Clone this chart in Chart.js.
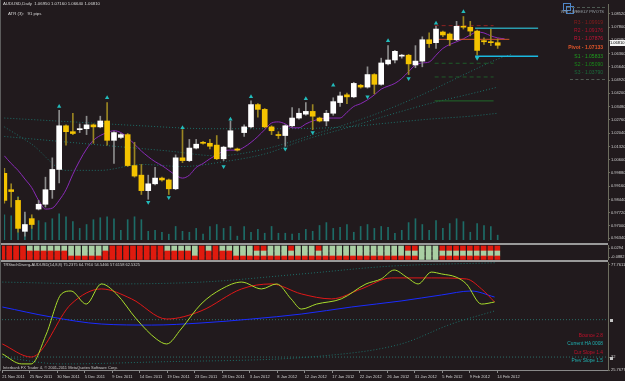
<!DOCTYPE html>
<html>
<head>
<meta charset="utf-8">
<script src="https://cdn.jsdelivr.net/npm/chart.js@4.4.1/dist/chart.umd.min.js"></script>
<style>
  html, body { margin: 0; padding: 0; background: #211a1d; }
  #wrap { position: relative; width: 625px; height: 381px; overflow: hidden; background: #211a1d;
          font-family: "Liberation Sans", Arial, sans-serif; }
  canvas { position: absolute; left: 0; }
  .t { position: absolute; white-space: nowrap; line-height: 1; }
  .sep { position: absolute; left: 0; width: 608px; height: 2px; background: #9a9a9a; }
</style>
</head>
<body>
<div id="wrap">
  <canvas id="main" width="625" height="244" style="top:0"></canvas>
  <canvas id="ha" width="625" height="15" style="top:245px"></canvas>
  <canvas id="st" width="625" height="119" style="top:262px"></canvas>
  <div class="sep" style="top:243px"></div>
  <div class="sep" style="top:260px"></div>
  <div style="position:absolute;left:0;top:0;width:1px;height:371px;background:#5c5c5c"></div>

  <div class="t" style="left:3px;top:2px;font-size:4.3px;color:#d8d8d8">AUDUSD,Daily&nbsp; 1.06950 1.07160 1.06640 1.06810</div>
  <div class="t" style="left:8px;top:12px;font-size:4.3px;color:#d8d8d8">ATR (3):&nbsp;&nbsp; 91 pips</div>

  <!-- weekly pivot box -->
  <div style="position:absolute;left:563px;top:3px;width:6px;height:6px;border:1px solid #4f86c6"></div>
  <div style="position:absolute;left:566px;top:6px;width:6px;height:6px;border:1px solid #4f86c6"></div>
  <div style="position:absolute;left:567px;top:7px;width:38px;border-top:1px dashed #4e5a52"></div>
  <div class="t" style="right:21px;top:10px;font-size:4px;color:#9aa3aa">WPI - WEEKLY PIVOTS</div>
  <div class="t" style="right:22px;top:20px;font-size:5px;color:#8b1c1c">R3 - 1.09919</div>
  <div class="t" style="right:22px;top:28px;font-size:5px;color:#b3102c">R2 - 1.09176</div>
  <div class="t" style="right:22px;top:36px;font-size:5px;color:#c81436">R1 - 1.07876</div>
  <div class="t" style="right:22px;top:45px;font-size:5px;color:#e2562a;font-weight:bold">Pivot - 1.07133</div>
  <div class="t" style="right:22px;top:54px;font-size:5px;color:#1ea01e">S1 - 1.05833</div>
  <div class="t" style="right:22px;top:62px;font-size:5px;color:#188c18">S2 - 1.05090</div>
  <div class="t" style="right:22px;top:70px;font-size:5px;color:#1b6d3c">S3 - 1.03790</div>
  <div style="position:absolute;left:570px;top:79px;width:35px;border-top:1px dashed #4e5a52"></div>

  <div class="t" style="left:610px;top:40px;width:15px;height:6px;background:#f4f4f4;color:#000;font-size:4px;line-height:6px">1.06810</div>

  <div class="t" style="left:3px;top:263px;font-size:4px;color:#d0d0d0">TRStochDiverg-AUDUSD(14,8,8) 75.2375 64.7910 54.5466 57.6158 62.5325</div>
  <div class="t" style="right:22px;top:334px;font-size:4.8px;color:#c0102a">Bounce 2.8</div>
  <div class="t" style="right:22px;top:342px;font-size:4.8px;color:#1fb0b0">Current HA 0008</div>
  <div class="t" style="right:22px;top:351px;font-size:4.8px;color:#c0102a">Cur Slope 1.4</div>
  <div class="t" style="right:22px;top:359px;font-size:4.8px;color:#1fb0b0">Prev Slope 1.5</div>
  <div style="position:absolute;left:610px;top:319px;width:3px;height:3px;background:#c4c4c4"></div>
  <div style="position:absolute;left:610px;top:357px;width:3px;height:3px;background:#c4c4c4"></div>
  <div class="t" style="left:3px;top:366px;font-size:4px;color:#c8c8c8">Interbank FX Trader 4, © 2001-2011 MetaQuotes Software Corp.</div>
</div>

<script>
// ---- data ----
const dateLabels = ['21 Nov 2011', '25 Nov 2011', '30 Nov 2011', '5 Dec 2011', '9 Dec 2011', '14 Dec 2011',
  '19 Dec 2011', '23 Dec 2011', '28 Dec 2011', '3 Jan 2012', '8 Jan 2012', '12 Jan 2012', '17 Jan 2012',
  '22 Jan 2012', '26 Jan 2012', '31 Jan 2012', '5 Feb 2012', '9 Feb 2012', '14 Feb 2012'];
const dateIdx = [0, 4, 8, 12, 16, 20, 24, 28, 32, 36, 40, 44, 48, 52, 56, 60, 64, 68, 72];

const open = [.9986, .9897, .9839, .9671, .9740, .9792, .9818, .9897, 1.0007, 1.0244,
  1.0212, 1.0223, 1.0228, 1.0249, 1.0238, 1.0270, 1.0165, 1.0181, 1.0196, 1.0028,
  .9976, .9892, .9929, .9960, .9950, .9902, 1.0070, 1.0055, 1.0123, 1.0154,
  1.0149, 1.0139, 1.0065, 1.0128, 1.0118, 1.0207, 1.0238, 1.0359, 1.0333, 1.0238,
  1.0196, 1.0191, 1.0244, 1.0286, 1.0307, 1.0322, 1.0286, 1.0270, 1.0312, 1.0370,
  1.0412, 1.0401, 1.0464, 1.0454, 1.0522, 1.0469, 1.0580, 1.0601, 1.0622, 1.0627,
  1.0574, 1.0595, 1.0711, 1.0695, 1.0753, 1.0742, 1.0711, 1.0784, 1.0779, 1.0758,
  1.0706, 1.0700, 1.0695];
const high = [1.0013, .9929, .9855, .9776, .9761, .9839, .9965, 1.0070, 1.0328, 1.0249,
  1.0312, 1.0254, 1.0296, 1.0254, 1.0296, 1.0370, 1.0212, 1.0202, 1.0202, 1.0154,
  1.0034, .9976, 1.0018, .9965, .9955, 1.0086, 1.0223, 1.0170, 1.0170, 1.0160,
  1.0170, 1.0191, 1.0133, 1.0270, 1.0123, 1.0249, 1.0380, 1.0364, 1.0338, 1.0244,
  1.0212, 1.0249, 1.0343, 1.0338, 1.0370, 1.0359, 1.0291, 1.0328, 1.0396, 1.0427,
  1.0422, 1.0480, 1.0469, 1.0564, 1.0527, 1.0611, 1.0679, 1.0653, 1.0632, 1.0632,
  1.0679, 1.0727, 1.0748, 1.0784, 1.0758, 1.0748, 1.0811, 1.0837, 1.0811, 1.0763,
  1.0721, 1.0774, 1.0716];
const low = [.9824, .9803, .9666, .9645, .9687, .9787, .9803, .9850, .9934, 1.0139,
  1.0196, 1.0207, 1.0196, 1.0149, 1.0233, 1.0139, 1.0039, 1.0175, 1.0023, .9965,
  .9871, .9845, .9923, .9944, .9871, .9897, 1.0044, 1.0049, 1.0118, 1.0144,
  1.0118, 1.0060, 1.0055, 1.0123, 1.0107, 1.0186, 1.0233, 1.0291, 1.0233, 1.0196,
  1.0175, 1.0133, 1.0238, 1.0280, 1.0301, 1.0223, 1.0265, 1.0244, 1.0301, 1.0349,
  1.0364, 1.0396, 1.0448, 1.0448, 1.0417, 1.0464, 1.0574, 1.0585, 1.0611, 1.0522,
  1.0559, 1.0564, 1.0669, 1.0664, 1.0727, 1.0679, 1.0706, 1.0769, 1.0732, 1.0627,
  1.0685, 1.0679, 1.0664];
const close = [.9839, .9887, .9687, .9708, .9708, .9818, .9897, 1.0007, 1.0244, 1.0212,
  1.0202, 1.0228, 1.0249, 1.0238, 1.0270, 1.0165, 1.0207, 1.0196, 1.0028, .9971,
  .9892, .9929, .9960, .9950, .9902, 1.0070, 1.0055, 1.0123, 1.0144, 1.0149,
  1.0133, 1.0065, 1.0128, 1.0217, 1.0112, 1.0238, 1.0359, 1.0333, 1.0238, 1.0217,
  1.0191, 1.0244, 1.0286, 1.0312, 1.0322, 1.0296, 1.0270, 1.0312, 1.0375, 1.0406,
  1.0401, 1.0474, 1.0454, 1.0522, 1.0469, 1.0585, 1.0601, 1.0648, 1.0627, 1.0580,
  1.0595, 1.0711, 1.0690, 1.0769, 1.0737, 1.0711, 1.0784, 1.0779, 1.0758, 1.0653,
  1.0700, 1.0695, 1.0681];

// shifted moving average (purple), one value per bar + 1 ahead
const maPurple = [1.0081, 1.0039, 1.0002, .9955, .9908, .9839, .9792, .9797, .9839, .9897,
  .9981, 1.0055, 1.0118, 1.0165, 1.0191, 1.0207, 1.0217, 1.0207, 1.0181, 1.0144,
  1.0107, 1.0076, 1.0049, 1.0028, 1.0002, .9976, .9960, .9976, 1.0018, 1.0039,
  1.0065, 1.0086, 1.0107, 1.0112, 1.0112, 1.0128, 1.0154, 1.0186, 1.0223, 1.0259,
  1.0265, 1.0254, 1.0233, 1.0233, 1.0254, 1.0270, 1.0280, 1.0286, 1.0286, 1.0286,
  1.0317, 1.0349, 1.0364, 1.0385, 1.0412, 1.0443, 1.0459, 1.0474, 1.0501, 1.0538,
  1.0574, 1.0585, 1.0590, 1.0627, 1.0664, 1.0685, 1.0700, 1.0716, 1.0737, 1.0753,
  1.0748, 1.0732, 1.0721, 1.0716];

// dotted moving averages: [bar, price]
const maSlow = [[0, 1.0286], [10, 1.0265], [20, 1.0244], [30, 1.0228], [40, 1.0228], [50, 1.0238],
  [56, 1.0259], [62, 1.0280], [68, 1.0296], [72, 1.0312]];
const maMid = [[0, 1.0238], [4, 1.0144], [9, 1.0002], [14, 1.0002], [20, 1.0034], [26, 1.0023],
  [32, 1.0049], [38, 1.0091], [44, 1.0170], [50, 1.0233], [56, 1.0301], [62, 1.0364], [68, 1.0417], [72, 1.0454]];
const maFast = [[0, 1.0186], [16, 1.0133], [24, 1.0107], [31, 1.0081], [38, 1.0118], [46, 1.0207],
  [53, 1.0291], [59, 1.0380], [63, 1.0448], [68, 1.0538], [72, 1.0606], [74, 1.0632]];

// fractal arrows
const fractalUp = [[8, 1.0349], [15, 1.0396], [26, 1.0233], [33, 1.0280], [36, 1.0401], [44, 1.0391],
  [48, 1.0464], [56, 1.0706], [63, 1.0800], [67, 1.0863]];
const fractalDown = [[21, .9829], [24, .9855], [32, 1.0023], [41, 1.0118], [45, 1.0207], [53, 1.0401],
  [59, 1.0501], [69, 1.0611]];

// bottom teal histogram in price window
const volH = [26, 25, 45, 26, 24, 20, 18, 22, 27, 24, 19, 12, 16, 21, 23, 24, 22, 10, 21, 24,
  21, 9, 10, 8, 6, 14, 9, 8, 12, 6, 14, 16, 12, 14, 4, 14, 8, 11, 7, 14,
  7, 7, 6, 7, 11, 9, 15, 18, 12, 13, 16, 8, 14, 16, 12, 14, 13, 7, 10, 18,
  22, 16, 10, 20, 12, 17, 22, 19, 8, 17, 15, 14, 5];

// weekly pivots drawn on chart
const pivR1 = 1.07876, pivP = 1.07133, pivS1 = 1.05833, pivS2 = 1.05090, pivS3 = 1.03790;
const pivFrom = 62.8, pivTo = 71.4, pivPTo = 73.7;
const rangeHigh = 1.0774, rangeLow = 1.0622, rangeFrom = 68.7, rangeTo = 77.9;

const priceTicks = [1.0852, 1.0780, 1.0708, 1.0636, 1.0564, 1.0492, 1.0420, 1.0348, 1.0276,
  1.0204, 1.0132, 1.0060, 0.9988, 0.9916, 0.9844, 0.9772, 0.9700, 0.9634];

// heiken ashi strip: G = green, R = red
const haTop = 'RRRRGGGGGGGGGGGGRRRRRRRRGGGGGRGRGGGGGRRGGGRGGGRGGGGGGGGGGGGRRGGGRRRRRRRRR'.split('');
const haMid = 'RRRRRRRRRRGGGGGRRRRRRRRRRRRRGRRRRRGGGGGGGGGGGGGGGGGGGGGGGGGGGGGGGGGGGGGGG'.split('');
const haBot = 'RRRRRRRRRRRRRRRRRRRRRRRRRRRRRRRRRRRRRRRRRRRRRRRRRRRRRRRRRRRRRGGGRRRRRRRRR'.split('');
const haTickPos = [2.4, 0.6];
const haTickLabels = ['0.0294', '-0.0882'];

// stochastic window: [bar, value]
const stochMain = [[0, 33.5], [2.8, 28.7], [4.2, 28.7], [6.4, 43.1], [8.6, 62.4], [10, 63.8], [12.2, 57.5],
  [14.4, 67.2], [16.6, 62.4], [19.5, 50.3], [22.4, 40.7], [23.9, 38.3], [26, 45.5], [28.9, 57.5],
  [31.9, 64.8], [34.8, 68.1], [37.7, 64.8], [39.9, 67.2], [42, 60.0], [43.5, 55.1], [45.7, 57.5],
  [49.3, 60.0], [52.9, 67.2], [55.1, 69.6], [57, 73.9], [58.8, 70.5], [60.5, 67.2], [62.4, 72.9],
  [63.9, 72.0], [66, 70.5], [67.5, 67.2], [69.7, 57.5], [71.6, 58.5]];
const stochSignal = [[0, 38.3], [4.2, 32.0], [10, 57.5], [14.4, 64.8], [18.8, 60.0], [23.9, 50.3],
  [28.9, 54.2], [34.8, 64.8], [39.1, 67.2], [43.5, 62.4], [47.9, 60.0], [52.2, 64.8], [56.6, 70.1],
  [62.4, 70.1], [67.5, 69.6], [69.7, 64.8], [71.6, 58.5]];
const stochSlow = [[0, 56.1], [7.1, 51.3], [14.4, 47.9], [21.7, 47.4], [28.9, 48.4], [36.2, 50.3],
  [43.5, 52.7], [50.8, 56.1], [58, 59.0], [63.9, 61.9], [68.2, 63.8], [71.6, 60.9]];
const bandUpper = [[0, 68.1], [14.4, 67.2], [29, 68.1], [43.5, 72.0], [56.6, 75.8], [71.6, 77.4]];
const bandLower = [[0, 32.0], [8.6, 28.7], [21.7, 29.6], [46.4, 32.5], [58, 38.3], [65.3, 47.9], [71.6, 54.2]];
const stochLevels = [50, 32];
const stochMin = 25.7677, stochMax = 77.7611;
const stochTickPos = [76.6, 32, 25.7677];
const stochTickLabels = ['77.7611', '32', '25.7677'];

// ---- setup ----
const X_MIN = -0.05, X_MAX = 88.1;
const AXIS = '#6d6d5f';
const TXT = '#d0d0d0';
const FONT = { size: 4, family: '"Liberation Sans", Arial, sans-serif' };
Chart.defaults.font.family = FONT.family;

const idx = open.map((_, i) => i);
const pts = arr => arr.map(([x, y]) => ({ x, y }));
const isBull = i => close[i] >= open[i];

function rightAxis(extra) {
  return Object.assign({
    position: 'right',
    afterFit: s => { s.width = 17; s.paddingTop = 0; s.paddingBottom = 0; },
    ticks: { color: TXT, font: FONT, padding: 1, autoSkip: false },
    grid: { drawOnChartArea: false, tickLength: 2, color: AXIS },
    border: { color: AXIS }
  }, extra);
}
const hiddenX = { type: 'linear', display: false, offset: false, min: X_MIN, max: X_MAX };
const baseOpts = {
  responsive: false, animation: false, devicePixelRatio: 1,
  layout: { padding: { left: 2, right: 0, top: 0, bottom: 0 } },
  plugins: { legend: { display: false }, tooltip: { enabled: false } }
};
function hline(x0, x1, y, color, dash, width, order) {
  return { type: 'line', data: [{ x: x0, y }, { x: x1, y }], borderColor: color, borderWidth: width || 1,
    borderDash: dash || [], pointRadius: 0, order: order || 5 };
}
function dotted(arr, color) {
  return { type: 'line', data: pts(arr), borderColor: color, borderWidth: 1, borderDash: [1, 2],
    pointRadius: 0, cubicInterpolationMode: 'monotone', order: 8 };
}

// ---- price window ----
new Chart(document.getElementById('main'), {
  type: 'bar',
  data: {
    datasets: [
      { yAxisID: 'yv', data: idx.map(i => ({ x: i, y: volH[i] })), backgroundColor: '#1d6c67',
        barThickness: 1, grouped: false, order: 10 },
      dotted(maSlow, '#1d6f69'),
      dotted(maMid, '#1d6f69'),
      dotted(maFast, '#1d6f69'),
      hline(pivFrom, pivTo, pivR1, '#8c2323', [4, 3]),
      hline(pivFrom, pivPTo, pivP, '#d2542a', []),
      hline(pivFrom, pivTo, pivS1, '#1f5a2a', [4, 3]),
      hline(pivFrom, pivTo, pivS2, '#1f5a2a', [4, 3]),
      hline(pivFrom, pivTo, pivS3, '#1f6a2a', []),
      hline(rangeFrom, rangeTo, rangeHigh, '#2a9cae', [], 1.5, 2),
      hline(rangeFrom, rangeTo, rangeLow, '#1ab8e0', [], 1.5, 2),
      { type: 'line', data: maPurple.map((v, i) => ({ x: i, y: v })), borderColor: '#8a2bb8', borderWidth: 1,
        pointRadius: 0, cubicInterpolationMode: 'monotone', order: 6 },
      { data: idx.map(i => ({ x: i, y: [low[i], high[i]] })),
        backgroundColor: idx.map(i => isBull(i) ? '#8d8d8d' : '#9a8522'),
        barThickness: 1, grouped: false, order: 4 },
      { data: idx.map(i => ({ x: i, y: [open[i], close[i]] })),
        backgroundColor: idx.map(i => isBull(i) ? '#ffffff' : '#f4c300'),
        barThickness: 5, grouped: false, minBarLength: 1, order: 3 },
      { type: 'scatter', data: pts(fractalUp), pointStyle: 'triangle', pointRadius: 2.5,
        backgroundColor: '#22bcbc', borderWidth: 0, order: 1 },
      { type: 'scatter', data: pts(fractalDown), pointStyle: 'triangle', rotation: 180, pointRadius: 2.5,
        backgroundColor: '#22bcbc', borderWidth: 0, order: 1 }
    ]
  },
  options: Object.assign({}, baseOpts, {
    scales: {
      x: hiddenX,
      y: rightAxis({
        min: 0.9624, max: 1.0905,
        afterBuildTicks: s => { s.ticks = priceTicks.map(v => ({ value: v })); },
        ticks: { color: TXT, font: FONT, padding: 1, autoSkip: false, callback: v => v.toFixed(5) }
      }),
      yv: { display: false, min: 0, max: 244 }
    }
  })
});

// ---- heiken ashi strip ----
const HA_G = '#a9cfa3', HA_R = '#e01b0f';
const haColor = c => c === 'G' ? HA_G : HA_R;
new Chart(document.getElementById('ha'), {
  type: 'bar',
  data: {
    datasets: [
      { data: idx.map(i => ({ x: i, y: [0.1, 0.8] })), backgroundColor: haBot.map(haColor), barThickness: 5, grouped: false },
      { data: idx.map(i => ({ x: i, y: [0.8, 1.8] })), backgroundColor: haMid.map(haColor), barThickness: 5, grouped: false },
      { data: idx.map(i => ({ x: i, y: [1.8, 2.8] })), backgroundColor: haTop.map(haColor), barThickness: 5, grouped: false }
    ]
  },
  options: Object.assign({}, baseOpts, {
    scales: {
      x: hiddenX,
      y: rightAxis({
        min: 0, max: 3,
        afterBuildTicks: s => { s.ticks = haTickPos.map(v => ({ value: v })); },
        ticks: { color: TXT, font: FONT, padding: 1, autoSkip: false, callback: (v, i) => haTickLabels[i] }
      })
    }
  })
});

// ---- stochastic window ----
new Chart(document.getElementById('st'), {
  type: 'line',
  data: {
    datasets: [
      hline(X_MIN, X_MAX, stochLevels[0], '#2a6e68', [1, 2], 1, 9),
      hline(X_MIN, X_MAX, stochLevels[1], '#2a6e68', [1, 2], 1, 9),
      dotted(bandUpper, '#1d6f69'),
      dotted(bandLower, '#1d6f69'),
      { data: pts(stochSlow), borderColor: '#1a2cff', borderWidth: 1, pointRadius: 0, cubicInterpolationMode: 'monotone', order: 4 },
      { data: pts(stochSignal), borderColor: '#e01818', borderWidth: 1, pointRadius: 0, cubicInterpolationMode: 'monotone', order: 3 },
      { data: pts(stochMain), borderColor: '#a8dc2c', borderWidth: 1, pointRadius: 0, cubicInterpolationMode: 'monotone', order: 2 }
    ]
  },
  options: Object.assign({}, baseOpts, {
    scales: {
      x: {
        type: 'linear', offset: false, min: X_MIN, max: X_MAX,
        afterBuildTicks: s => { s.ticks = dateIdx.map(v => ({ value: v })); },
        afterFit: s => { s.height = 11; s.paddingLeft = 0; s.paddingRight = 0; },
        ticks: { color: TXT, font: FONT, padding: 1, align: 'start', maxRotation: 0, autoSkip: false,
                 callback: (v, i) => dateLabels[i] },
        grid: { drawOnChartArea: false, tickLength: 3, color: '#8a8a8a' },
        border: { color: '#8a8a8a' }
      },
      y: rightAxis({
        min: stochMin, max: stochMax,
        afterBuildTicks: s => { s.ticks = stochTickPos.map(v => ({ value: v })); },
        ticks: { color: TXT, font: FONT, padding: 1, autoSkip: false, callback: (v, i) => stochTickLabels[i] }
      })
    }
  })
});
</script>
</body>
</html>
